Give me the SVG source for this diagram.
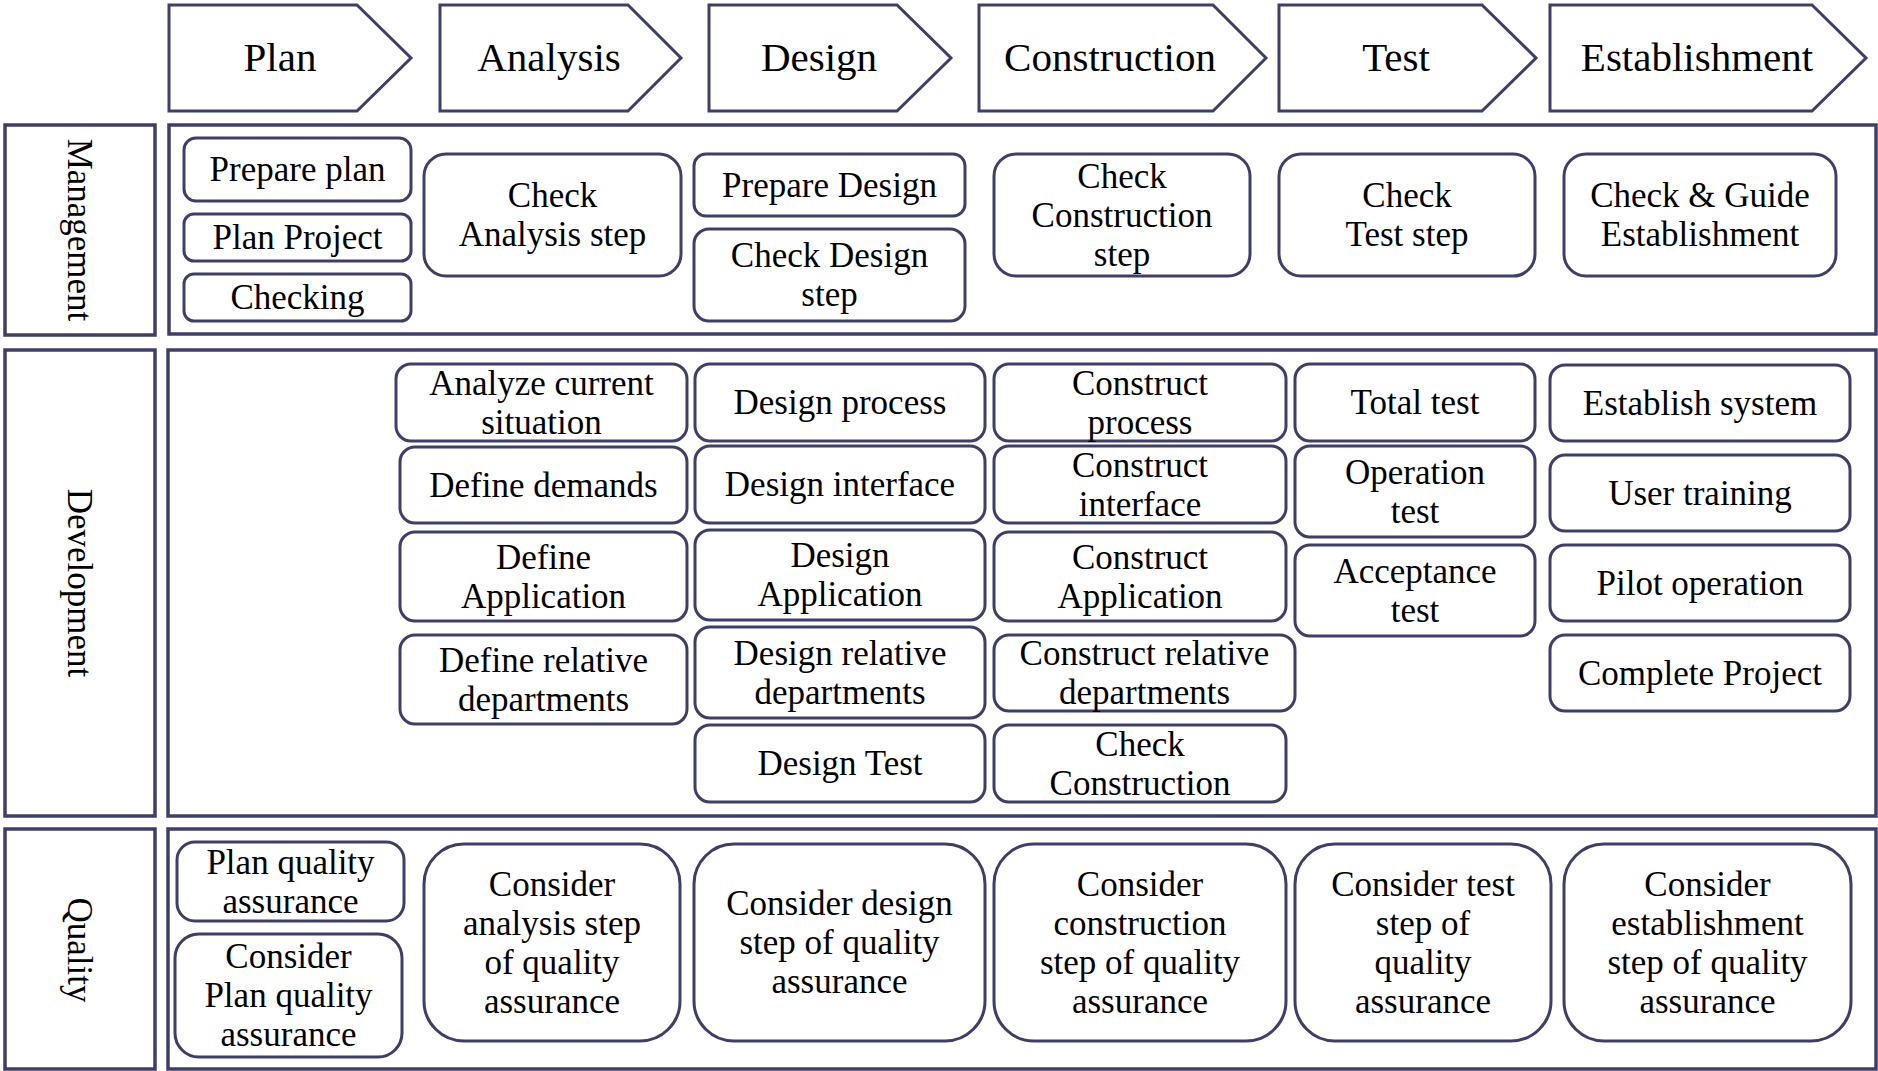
<svg xmlns="http://www.w3.org/2000/svg" width="1878" height="1071" viewBox="0 0 1878 1071">
<style>
.box{fill:#fff;stroke:#3f3e6b;stroke-width:3}
.lane{fill:#fff;stroke:#3f3e6b;stroke-width:3.5}
.t{font-family:"Liberation Serif","Times New Roman",serif;font-size:35px;fill:#000;text-anchor:middle}
.h{font-family:"Liberation Serif","Times New Roman",serif;font-size:41px;fill:#000;text-anchor:middle}
</style>
<rect width="1878" height="1071" fill="#fff"/>
<g id="header">
<g id="ph-plan"><polygon class="box" points="169,5 357,5 411,58 357,111 169,111"/><text class="h" x="280" y="71">Plan</text></g>
<g id="ph-analysis"><polygon class="box" points="440,5 628,5 681,58 628,111 440,111"/><text class="h" x="549" y="71">Analysis</text></g>
<g id="ph-design"><polygon class="box" points="709,5 897,5 951,58 897,111 709,111"/><text class="h" x="819" y="71">Design</text></g>
<g id="ph-construction"><polygon class="box" points="979,5 1213,5 1266,58 1213,111 979,111"/><text class="h" x="1110" y="71">Construction</text></g>
<g id="ph-test"><polygon class="box" points="1279,5 1482,5 1536,58 1482,111 1279,111"/><text class="h" x="1396" y="71">Test</text></g>
<g id="ph-establishment"><polygon class="box" points="1550,5 1812,5 1866,58 1812,111 1550,111"/><text class="h" x="1697" y="71">Establishment</text></g>
</g>
<g id="lanes">
<g id="lane-management"><rect class="lane" x="5" y="125" width="150" height="210"/><rect class="lane" x="169" y="125" width="1707" height="209"/><text class="t" transform="translate(68,230) rotate(90)">Management</text></g>
<g id="lane-development"><rect class="lane" x="5" y="350" width="150" height="466"/><rect class="lane" x="168" y="350" width="1708" height="466"/><text class="t" transform="translate(68,583) rotate(90)">Development</text></g>
<g id="lane-quality"><rect class="lane" x="5" y="829" width="150" height="240"/><rect class="lane" x="168" y="829" width="1708" height="240"/><text class="t" transform="translate(68,950) rotate(90)">Quality</text></g>
</g>
<g id="management">
<g id="prepare-plan"><rect class="box" x="184" y="138" width="227" height="63" rx="12"/><text class="t" x="297.5" y="181">Prepare plan</text></g>
<g id="plan-project"><rect class="box" x="184" y="214" width="227" height="47" rx="10"/><text class="t" x="297.5" y="249">Plan Project</text></g>
<g id="checking"><rect class="box" x="184" y="274" width="227" height="47" rx="10"/><text class="t" x="297.5" y="309">Checking</text></g>
<g id="check-analysis"><rect class="box" x="424" y="154" width="257" height="122" rx="22"/><text class="t" x="552.5" y="207">Check</text><text class="t" x="552.5" y="246">Analysis step</text></g>
<g id="prepare-design"><rect class="box" x="694" y="154" width="271" height="62" rx="12"/><text class="t" x="829.5" y="196.5">Prepare Design</text></g>
<g id="check-design"><rect class="box" x="694" y="229" width="271" height="92" rx="15"/><text class="t" x="829.5" y="267">Check Design</text><text class="t" x="829.5" y="306">step</text></g>
<g id="check-construction-step"><rect class="box" x="994" y="154" width="256" height="122" rx="22"/><text class="t" x="1122" y="187.5">Check</text><text class="t" x="1122" y="226.5">Construction</text><text class="t" x="1122" y="265.5">step</text></g>
<g id="check-test"><rect class="box" x="1279" y="154" width="256" height="122" rx="22"/><text class="t" x="1407" y="207">Check</text><text class="t" x="1407" y="246">Test step</text></g>
<g id="check-guide"><rect class="box" x="1564" y="154" width="272" height="122" rx="22"/><text class="t" x="1700" y="207">Check &amp; Guide</text><text class="t" x="1700" y="246">Establishment</text></g>
</g>
<g id="development">
<g id="analyze-current"><rect class="box" x="396" y="364" width="291" height="77" rx="15"/><text class="t" x="541.5" y="394.5">Analyze current</text><text class="t" x="541.5" y="433.5">situation</text></g>
<g id="define-demands"><rect class="box" x="400" y="447" width="287" height="76" rx="15"/><text class="t" x="543.5" y="496.5">Define demands</text></g>
<g id="define-application"><rect class="box" x="400" y="532" width="287" height="89" rx="15"/><text class="t" x="543.5" y="568.5">Define</text><text class="t" x="543.5" y="607.5">Application</text></g>
<g id="define-relative"><rect class="box" x="400" y="635" width="287" height="89" rx="15"/><text class="t" x="543.5" y="671.5">Define relative</text><text class="t" x="543.5" y="710.5">departments</text></g>
<g id="design-process"><rect class="box" x="695" y="364" width="290" height="77" rx="15"/><text class="t" x="840" y="414">Design process</text></g>
<g id="design-interface"><rect class="box" x="695" y="446" width="290" height="77" rx="15"/><text class="t" x="840" y="496">Design interface</text></g>
<g id="design-application"><rect class="box" x="695" y="530" width="290" height="90" rx="15"/><text class="t" x="840" y="567">Design</text><text class="t" x="840" y="606">Application</text></g>
<g id="design-relative"><rect class="box" x="695" y="627" width="290" height="91" rx="15"/><text class="t" x="840" y="664.5">Design relative</text><text class="t" x="840" y="703.5">departments</text></g>
<g id="design-test"><rect class="box" x="695" y="725" width="290" height="77" rx="15"/><text class="t" x="840" y="775">Design Test</text></g>
<g id="construct-process"><rect class="box" x="994" y="364" width="292" height="77" rx="15"/><text class="t" x="1140" y="394.5">Construct</text><text class="t" x="1140" y="433.5">process</text></g>
<g id="construct-interface"><rect class="box" x="994" y="446" width="292" height="77" rx="15"/><text class="t" x="1140" y="476.5">Construct</text><text class="t" x="1140" y="515.5">interface</text></g>
<g id="construct-application"><rect class="box" x="994" y="532" width="292" height="89" rx="15"/><text class="t" x="1140" y="568.5">Construct</text><text class="t" x="1140" y="607.5">Application</text></g>
<g id="construct-relative"><rect class="box" x="994" y="635" width="301" height="76" rx="15"/><text class="t" x="1144.5" y="665">Construct relative</text><text class="t" x="1144.5" y="704">departments</text></g>
<g id="check-construction"><rect class="box" x="994" y="725" width="292" height="77" rx="15"/><text class="t" x="1140" y="755.5">Check</text><text class="t" x="1140" y="794.5">Construction</text></g>
<g id="total-test"><rect class="box" x="1295" y="364" width="240" height="77" rx="15"/><text class="t" x="1415" y="414">Total test</text></g>
<g id="operation-test"><rect class="box" x="1295" y="446" width="240" height="91" rx="15"/><text class="t" x="1415" y="483.5">Operation</text><text class="t" x="1415" y="522.5">test</text></g>
<g id="acceptance-test"><rect class="box" x="1295" y="545" width="240" height="91" rx="15"/><text class="t" x="1415" y="582.5">Acceptance</text><text class="t" x="1415" y="621.5">test</text></g>
<g id="establish-system"><rect class="box" x="1550" y="365" width="300" height="76" rx="15"/><text class="t" x="1700" y="414.5">Establish system</text></g>
<g id="user-training"><rect class="box" x="1550" y="455" width="300" height="76" rx="15"/><text class="t" x="1700" y="504.5">User training</text></g>
<g id="pilot-operation"><rect class="box" x="1550" y="545" width="300" height="76" rx="15"/><text class="t" x="1700" y="594.5">Pilot operation</text></g>
<g id="complete-project"><rect class="box" x="1550" y="635" width="300" height="76" rx="15"/><text class="t" x="1700" y="684.5">Complete Project</text></g>
</g>
<g id="quality">
<g id="plan-qa"><rect class="box" x="177" y="842" width="227" height="79" rx="18"/><text class="t" x="290.5" y="873.5">Plan quality</text><text class="t" x="290.5" y="912.5">assurance</text></g>
<g id="consider-plan-qa"><rect class="box" x="175" y="934" width="227" height="123" rx="24"/><text class="t" x="288.5" y="968">Consider</text><text class="t" x="288.5" y="1007">Plan quality</text><text class="t" x="288.5" y="1046">assurance</text></g>
<g id="consider-analysis"><rect class="box" x="424" y="844" width="256" height="197" rx="40"/><text class="t" x="552" y="895.5">Consider</text><text class="t" x="552" y="934.5">analysis step</text><text class="t" x="552" y="973.5">of quality</text><text class="t" x="552" y="1012.5">assurance</text></g>
<g id="consider-design"><rect class="box" x="694" y="844" width="291" height="197" rx="40"/><text class="t" x="839.5" y="915">Consider design</text><text class="t" x="839.5" y="954">step of quality</text><text class="t" x="839.5" y="993">assurance</text></g>
<g id="consider-construction"><rect class="box" x="994" y="844" width="292" height="197" rx="40"/><text class="t" x="1140" y="895.5">Consider</text><text class="t" x="1140" y="934.5">construction</text><text class="t" x="1140" y="973.5">step of quality</text><text class="t" x="1140" y="1012.5">assurance</text></g>
<g id="consider-test"><rect class="box" x="1295" y="844" width="256" height="197" rx="40"/><text class="t" x="1423" y="895.5">Consider test</text><text class="t" x="1423" y="934.5">step of</text><text class="t" x="1423" y="973.5">quality</text><text class="t" x="1423" y="1012.5">assurance</text></g>
<g id="consider-establishment"><rect class="box" x="1564" y="844" width="287" height="197" rx="40"/><text class="t" x="1707.5" y="895.5">Consider</text><text class="t" x="1707.5" y="934.5">establishment</text><text class="t" x="1707.5" y="973.5">step of quality</text><text class="t" x="1707.5" y="1012.5">assurance</text></g>
</g>
<g id="connectors"/>
</svg>
